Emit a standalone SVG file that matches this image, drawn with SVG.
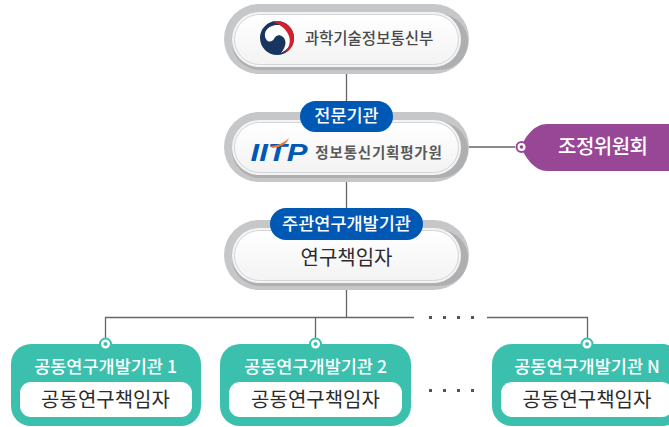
<svg xmlns="http://www.w3.org/2000/svg" width="669" height="427" viewBox="0 0 669 427">
<defs>
<linearGradient id="w" x1="0" y1="0" x2="0" y2="1"><stop offset="0" stop-color="#ffffff"/><stop offset="1" stop-color="#f3f3f4"/></linearGradient>
</defs>
<style>
text{font-family:"Noto Sans CJK KR","Noto Sans",sans-serif;text-anchor:middle}
.ring{fill:#c6c7c9}
.sh{fill:#9a9b9d}
.in{fill:url(#w);stroke:#d4d5d7;stroke-width:1}
.gap{fill:#f4f4f5}
.pill{fill:#0058b5}
.pt{fill:#fff;font-size:17.500px;font-weight:500}
.ln{stroke:#666;stroke-width:1.300;fill:none}
.card{fill:#3cc0ae}
.cin{fill:#fff}
.ct{fill:#fff;font-size:17.500px;font-weight:500}
.cn{fill:#2b2b2b;font-size:20px}
.dot{fill:#fff;stroke:#3cc0ae;stroke-width:2}
.dc{fill:#3cc0ae}
.d{fill:#555}
</style>
<g id="connectors">
<path class="ln" d="M346.500 72V114M346.500 178V222M346.500 282V317.500M105.500 338V317.500H414M487 317.500H587.500V338M315.500 317.500V338M468 147H515"/>
</g>
<g id="dots-top" class="d">
<rect x="429" y="316" width="3" height="3"/><rect x="443" y="316" width="3" height="3"/><rect x="457" y="316" width="3" height="3"/><rect x="471" y="316" width="3" height="3"/>
</g>
<g id="dots-bottom" class="d">
<rect x="429" y="389" width="3" height="3"/><rect x="443" y="389" width="3" height="3"/><rect x="457" y="389" width="3" height="3"/><rect x="471" y="389" width="3" height="3"/>
</g>
<g id="node-msit">
<rect class="ring" x="224" y="4" width="245" height="70" rx="35"/>
<rect class="sh" x="232" y="14" width="236" height="56" rx="28" opacity=".55"/>
<rect class="gap" x="232" y="12" width="229" height="55" rx="27.500"/>
<rect class="in" x="234.500" y="14.500" width="224" height="50" rx="25"/>
<circle cx="277" cy="38" r="17" fill="#17355f"/>
<path d="M266 39C262 31 270 24 279 25C287 26 292 32 291.500 39C291 46 287 50 281 53C286 47 287 41 283 37C280 34 276 35 274.500 38C273 42 268 43 266 39Z" fill="#fff"/>
<path d="M272 21.500C284 19 294.500 28 294 39C293.700 46 290 51 283 54C289 49 291 42 289 36C286 28 279 24 272 21.500Z" fill="#d2202f"/>
<text x="369" y="44" font-size="15.500" font-weight="500" fill="#4a4a4a">과학기술정보통신부</text>
</g>
<g id="node-iitp">
<rect class="ring" x="224" y="112" width="245" height="70" rx="35"/>
<rect class="sh" x="232" y="122" width="236" height="56" rx="28" opacity=".55"/>
<rect class="gap" x="232" y="120" width="229" height="55" rx="27.500"/>
<rect class="in" x="234.500" y="122.500" width="224" height="50" rx="25"/>
<text x="279" y="161" font-size="24" font-weight="900" font-style="italic" fill="#0058b5" style="font-family:'Liberation Sans',sans-serif" textLength="57" lengthAdjust="spacingAndGlyphs">IITP</text>
<path d="M271 146Q282 145 289 138Q286 147 272 148Z" fill="#f0762a"/>
<text x="379" y="158" font-size="14.500" font-weight="600" fill="#5a5a5a" letter-spacing=".8">정보통신기획평가원</text>
</g>
<g id="badge-agency">
<rect class="pill" x="300" y="101" width="93" height="31" rx="15.500"/>
<text class="pt" x="346.500" y="122">전문기관</text>
</g>
<g id="node-committee">
<path d="M669 124H547C535 124 526 135 521 147C526 159 535 171 547 171H669Z" fill="#984797"/>
<circle class="dot" cx="521.500" cy="147" r="5" style="stroke:#984797"/>
<circle cx="521.500" cy="147" r="1.800" fill="#984797"/>
<text x="603" y="153.500" font-size="20" font-weight="500" fill="#fff" textLength="90">조정위원회</text>
</g>
<g id="node-lead">
<rect class="ring" x="224" y="220" width="245" height="70" rx="35"/>
<rect class="sh" x="232" y="230" width="236" height="56" rx="28" opacity=".55"/>
<rect class="gap" x="232" y="228" width="229" height="55" rx="27.500"/>
<rect class="in" x="234.500" y="230.500" width="224" height="50" rx="25"/>
<text x="346.500" y="265" font-size="20" fill="#2b2b2b">연구책임자</text>
</g>
<g id="badge-lead">
<rect class="pill" x="270" y="208" width="153" height="32" rx="16"/>
<text class="pt" x="346.500" y="229.500">주관연구개발기관</text>
</g>
<g id="node-co1">
<rect class="card" x="11" y="344" width="190" height="82" rx="20"/>
<rect class="cin" x="20" y="382" width="172" height="35" rx="11"/>
<circle class="dot" cx="105.500" cy="344" r="5.500"/><circle class="dc" cx="105.500" cy="344" r="2"/>
<text class="ct" x="105.500" y="373">공동연구개발기관 1</text>
<text class="cn" x="105.500" y="406.500">공동연구책임자</text>
</g>
<g id="node-co2">
<rect class="card" x="220" y="344" width="191" height="82" rx="20"/>
<rect class="cin" x="229" y="382" width="173" height="35" rx="11"/>
<circle class="dot" cx="315.500" cy="344" r="5.500"/><circle class="dc" cx="315.500" cy="344" r="2"/>
<text class="ct" x="315.500" y="373">공동연구개발기관 2</text>
<text class="cn" x="315.500" y="406.500">공동연구책임자</text>
</g>
<g id="node-coN">
<rect class="card" x="492" y="344" width="190" height="82" rx="20"/>
<rect class="cin" x="501" y="382" width="172" height="35" rx="11"/>
<circle class="dot" cx="587" cy="344" r="5.500"/><circle class="dc" cx="587" cy="344" r="2"/>
<text class="ct" x="587" y="373">공동연구개발기관 N</text>
<text class="cn" x="587" y="406.500">공동연구책임자</text>
</g>
</svg>
